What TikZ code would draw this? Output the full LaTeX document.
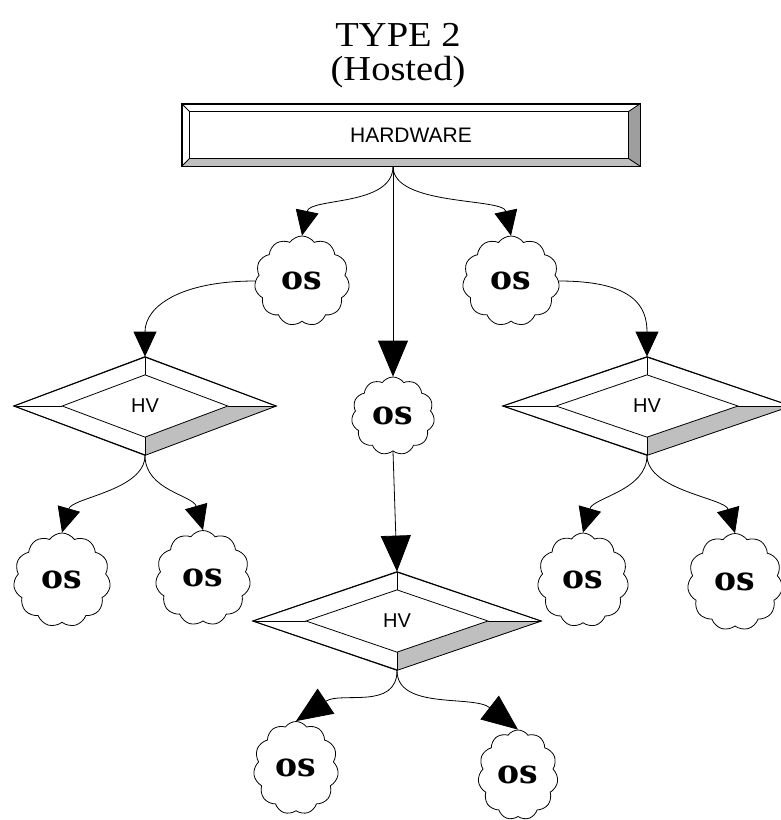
\documentclass[tikz,border=0pt]{standalone}
\usepackage{fontspec}
\usepackage{graphicx}
\setmainfont{Liberation Serif}
\newfontfamily\osfont{DejaVu Serif}
\newfontfamily\hvfont{Liberation Sans}
\usetikzlibrary{arrows.meta, positioning, shapes.geometric, shapes.symbols, calc}

\definecolor{bevelgray}{gray}{0.75}
\definecolor{bevelside}{gray}{0.62}

\tikzset{
    osnode/.style={cloud, cloud puffs=11, cloud puff arc=110, aspect=1, draw, line width=0.8pt, fill=white, inner sep=0pt, font=\osfont\bfseries\fontsize{33}{33}\selectfont},
    hvnode/.style={diamond, draw, line width=0.8pt, fill=white, inner sep=0pt, minimum height=98pt, font=\hvfont\fontsize{20}{20}\selectfont},
    hwbox/.style={rectangle, draw, line width=0.8pt, fill=white, minimum width=458pt, minimum height=62pt, font=\hvfont\fontsize{21}{21}\selectfont},
    link/.style={line width=0.8pt, draw=black},
    smalltip/.style={-{Triangle[length=25pt,width=23pt]}},
    bigtip/.style={-{Triangle[length=36pt,width=30pt]}}
}

% inner diamond and shaded lower right face of an HV node
\newcommand{\hvbevel}[1]{%
    \fill[bevelgray] ($(#1.center)!0.63!(#1.south)$) -- ($(#1.center)!0.63!(#1.east)$) -- (#1.east) -- (#1.south) -- cycle;
    \draw[line width=0.8pt] (#1.north) -- (#1.east) -- (#1.south) -- (#1.west) -- cycle;
    \draw[line width=0.8pt] ($(#1.center)!0.63!(#1.north)$) -- ($(#1.center)!0.63!(#1.east)$) -- ($(#1.center)!0.63!(#1.south)$) -- ($(#1.center)!0.63!(#1.west)$) -- cycle;
    \draw[line width=0.8pt] (#1.north) -- ($(#1.center)!0.63!(#1.north)$);
    \draw[line width=0.8pt] (#1.west) -- ($(#1.center)!0.63!(#1.west)$);
    \draw[line width=0.8pt] (#1.south) -- ($(#1.center)!0.63!(#1.south)$);
    \draw[line width=0.8pt] (#1.east) -- ($(#1.center)!0.63!(#1.east)$);
}

\begin{document}
\begin{tikzpicture}[x=1pt, y=-1pt]
    \useasboundingbox (0,0) rectangle (780,820);

    % title
    \node[anchor=base, font=\fontsize{35}{38}\selectfont] (title) at (398,46) {\scalebox{1.1}[1]{TYPE 2}};
    \node[anchor=base, font=\fontsize{35}{38}\selectfont] (subtitle) at (398,80) {\scalebox{1.1}[1]{(Hosted)}};

    % hardware
    \node[hwbox] (hw) at (411,135) {HARDWARE};
    \fill[bevelgray] (hw.south west) -- (hw.south east) -- ($(hw.south east)+(-12,-8)$) -- ($(hw.south west)+(8,-8)$) -- cycle;
    \fill[bevelside] (hw.north east) -- (hw.south east) -- ($(hw.south east)+(-12,-8)$) -- ($(hw.north east)+(-12,8)$) -- cycle;
    \draw[line width=0.8pt] (hw.north west) rectangle (hw.south east);
    \draw[line width=0.8pt] ($(hw.north west)+(8,8)$) rectangle ($(hw.south east)+(-12,-8)$);
    \draw[line width=0.8pt] (hw.north west) -- ($(hw.north west)+(8,8)$);
    \draw[line width=0.8pt] (hw.north east) -- ($(hw.north east)+(-12,8)$);
    \draw[line width=0.8pt] (hw.south west) -- ($(hw.south west)+(8,-8)$);
    \draw[line width=0.8pt] (hw.south east) -- ($(hw.south east)+(-12,-8)$);

    % first level
    \node[osnode, minimum width=95pt, minimum height=90pt] (osa) at (302,281) {os};
    \node[osnode, minimum width=97pt, minimum height=90pt] (osb) at (511,281) {os};
    \node[osnode, minimum width=83pt, minimum height=78pt] (osm) at (393,416) {os};

    % hypervisors
    \node[hvnode, minimum width=262pt] (hvl) at (145,406) {HV};
    \node[hvnode, minimum width=288pt] (hvr) at (647,406) {HV};
    \node[hvnode, minimum width=288pt] (hvm) at (397,621) {HV};
    \hvbevel{hvl}
    \hvbevel{hvr}
    \hvbevel{hvm}

    % guests
    \node[osnode, minimum width=97pt, minimum height=94pt] (osc) at (62,580) {os};
    \node[osnode, minimum width=95pt, minimum height=95pt] (osd) at (203,578) {os};
    \node[osnode, minimum width=91pt, minimum height=94pt] (ose) at (583,580) {os};
    \node[osnode, minimum width=95pt, minimum height=97pt] (osf) at (735,582) {os};
    \node[osnode, minimum width=85pt, minimum height=93pt] (osg) at (296,768) {os};
    \node[osnode, minimum width=80pt, minimum height=90pt] (osh) at (518,775) {os};

    % connectors
    \draw[link, smalltip] (osm |- hw.south) .. controls +(0,40) and +(8,-38) .. (osa.north);
    \draw[link, smalltip] (osm |- hw.south) .. controls +(0,40) and +(-8,-38) .. (osb.north);
    \draw[link, bigtip] (osm |- hw.south) -- (osm.north);
    \draw[link, smalltip] (osa.west) .. controls +(-75,0) and +(0,-50) .. (hvl.north);
    \draw[link, smalltip] (osb.east) .. controls +(75,0) and +(0,-50) .. (hvr.north);
    \draw[link, bigtip] (osm.south) -- (hvm.north);
    \draw[link, smalltip] (hvl.south) .. controls +(0,35) and +(10,-35) .. (osc.north);
    \draw[link, smalltip] (hvl.south) .. controls +(0,35) and +(-10,-35) .. (osd.north);
    \draw[link, smalltip] (hvr.south) .. controls +(0,35) and +(10,-35) .. (ose.north);
    \draw[link, smalltip] (hvr.south) .. controls +(0,35) and +(-10,-35) .. (osf.north);
    \draw[link, bigtip] (hvm.south) .. controls +(0,40) and +(45,-30) .. (osg.north);
    \draw[link, bigtip] (hvm.south) .. controls +(0,40) and +(-45,-35) .. (osh.north);
\end{tikzpicture}
\end{document}
